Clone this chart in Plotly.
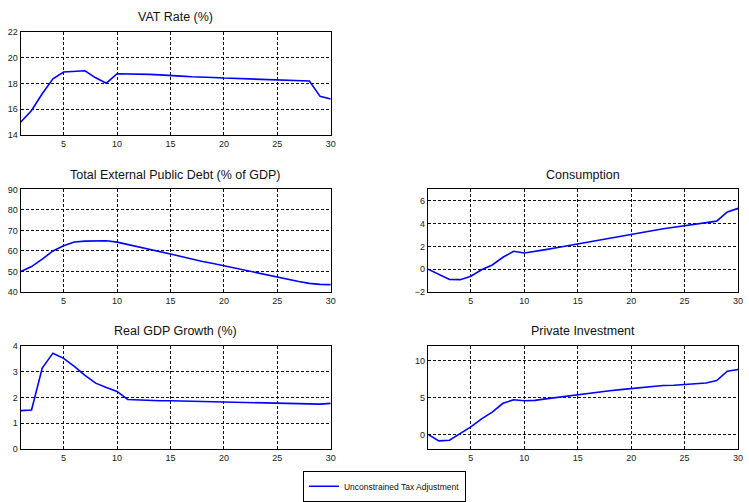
import plotly.graph_objects as go

periods = list(range(1, 31))

vat_rate = [15.0, 15.9, 17.2, 18.37, 18.9, 18.93, 19.0, 18.45, 18.03, 18.77,
            18.77, 18.77, 18.72, 18.68, 18.65, 18.58, 18.53, 18.52, 18.48, 18.43,
            18.4, 18.37, 18.33, 18.3, 18.28, 18.25, 18.23, 18.2, 17.0, 16.8]

public_debt = [50.0, 52.4, 56.0, 60.0, 62.5, 64.4, 64.8, 65.0, 65.0, 64.3,
               63.2, 62.0, 60.8, 59.6, 58.5, 57.3, 56.0, 54.9, 53.9, 52.8,
               51.6, 50.4, 49.3, 48.3, 47.3, 46.2, 45.1, 44.2, 43.7, 43.6]

consumption = [0.0, -0.45, -0.9, -0.92, -0.62, -0.05, 0.37, 1.05, 1.57, 1.42,
               1.55, 1.72, 1.88, 2.05, 2.22, 2.38, 2.55, 2.7, 2.88, 3.05,
               3.2, 3.37, 3.55, 3.68, 3.8, 3.93, 4.07, 4.22, 5.03, 5.34]

gdp_growth = [1.49, 1.51, 3.13, 3.71, 3.51, 3.2, 2.85, 2.55, 2.38, 2.23,
              1.92, 1.9, 1.88, 1.87, 1.87, 1.86, 1.85, 1.83, 1.82, 1.81,
              1.8, 1.79, 1.78, 1.77, 1.76, 1.75, 1.74, 1.73, 1.74, 1.77]

investment = [0.0, -0.88, -0.8, 0.1, 1.0, 2.1, 3.0, 4.2, 4.67, 4.54,
              4.6, 4.8, 5.0, 5.2, 5.4, 5.6, 5.75, 5.9, 6.05, 6.2,
              6.35, 6.5, 6.6, 6.65, 6.72, 6.8, 6.95, 7.27, 8.55, 8.77]

x_ticks = [5, 10, 15, 20, 25, 30]
series_name = "Unconstrained Tax Adjustment"

W, H = 749, 502

panels = [
    # title, data, yrange, yticks, (left,right,top,bottom) px
    ("VAT Rate (%)", vat_rate, [14, 22], [14, 16, 18, 20, 22], (21, 333, 28, 133)),
    ("Total External Public Debt (% of GDP)", public_debt, [40, 90], [40, 50, 60, 70, 80, 90], (21, 333, 189, 294)),
    ("Consumption", consumption, [-2, 7], [-2, 0, 2, 4, 6], (431, 743, 189, 294)),
    ("Real GDP Growth (%)", gdp_growth, [0, 4], [0, 1, 2, 3, 4], (21, 333, 349, 455)),
    ("Private Investment", investment, [-2, 12], [0, 5, 10], (431, 743, 349, 455)),
]

fig = go.Figure()
layout = dict(
    width=W, height=H,
    margin=dict(l=0, r=0, t=0, b=0),
    paper_bgcolor="white", plot_bgcolor="white",
    font=dict(family="Liberation Sans, Arial, sans-serif", size=9, color="#222"),
    annotations=[],
    showlegend=True,
)

for i, (title, data, yr, yt, (l, r, t, b)) in enumerate(panels):
    n = "" if i == 0 else str(i + 1)
    fig.add_trace(go.Scatter(
        x=periods, y=data, mode="lines",
        line=dict(color="#0000ff", width=1.6),
        name=series_name, showlegend=(i == 0),
        xaxis="x" + n, yaxis="y" + n,
    ))
    common = dict(showline=True, mirror=True, linecolor="black", linewidth=1.4,
                  showgrid=True, gridcolor="#111", griddash="3px,2px", gridwidth=1,
                  zeroline=False, ticks="inside", ticklen=3, tickcolor="black",
                  tickfont=dict(size=9, color="#222"))
    layout["xaxis" + n] = dict(domain=[l / W, r / W], range=[1, 30],
                               tickvals=x_ticks, anchor="y" + n, **common)
    layout["yaxis" + n] = dict(domain=[1 - b / H, 1 - t / H], range=yr,
                               tickvals=yt, anchor="x" + n, **common)
    layout["annotations"].append(dict(
        text=title, x=(l + r) / 2 / W, y=1 - (t - 6) / H,
        xref="paper", yref="paper", xanchor="center", yanchor="bottom",
        showarrow=False, font=dict(size=12.5, color="#111")))

layout["legend"] = dict(
    x=387 / W, y=1 - 493 / H, xanchor="center", yanchor="middle",
    orientation="h", bordercolor="black", borderwidth=1,
    bgcolor="white", font=dict(size=8.5, color="#111"),
    itemwidth=30, tracegroupgap=0,
)

fig.update_layout(**layout)
fig.write_html(
    "out.html",
    config={"displayModeBar": False},
    post_script="document.body.style.margin='0';document.body.style.overflow='hidden';",
)
